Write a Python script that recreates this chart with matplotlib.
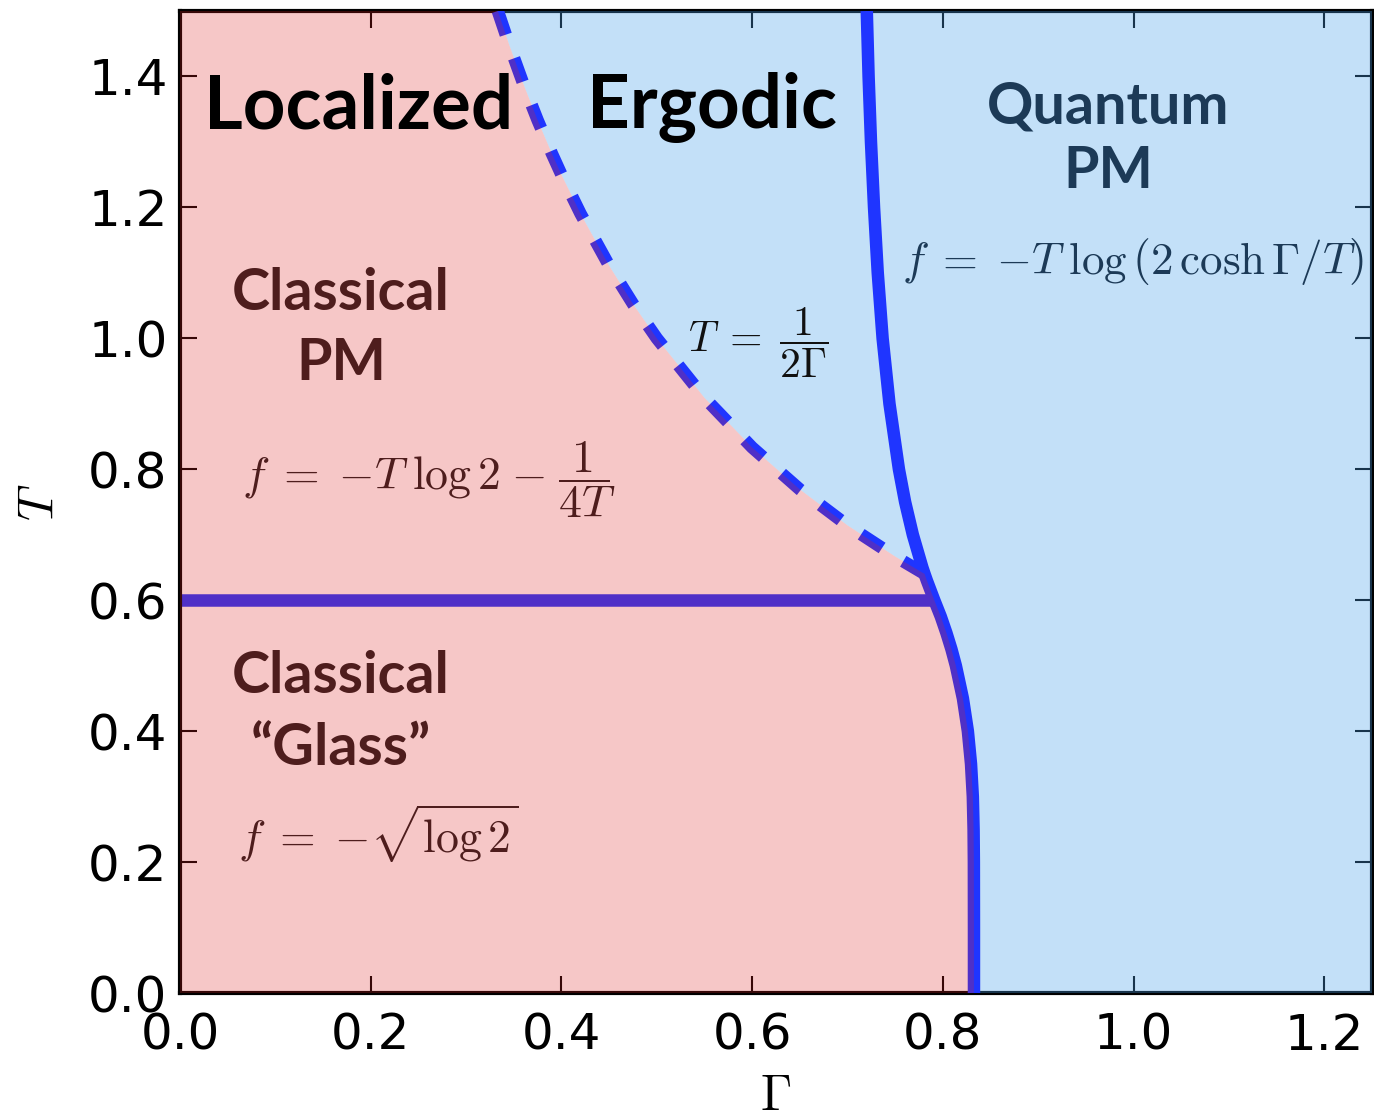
import numpy as np
import matplotlib
matplotlib.use("Agg")
import matplotlib.pyplot as plt

plt.rcParams['mathtext.fontset'] = 'cm'
plt.rcParams['font.family'] = ['DejaVu Sans']

# ---- data ----
# solid transition line (Gamma_c(T))
solid_T = [0.0, 0.1, 0.2, 0.25, 0.3, 0.35, 0.4, 0.45, 0.5, 0.525, 0.55, 0.575, 0.6,
           0.63, 0.64, 0.65, 0.7, 0.75, 0.8, 0.9, 1.0, 1.1, 1.2, 1.3, 1.4, 1.5]
solid_G = [0.8326, 0.8326, 0.8325, 0.8322, 0.8314, 0.8295, 0.8262, 0.8210, 0.8136, 0.8090,
           0.8037, 0.7978, 0.7910, 0.7832, 0.7808, 0.7785, 0.7685, 0.7604, 0.7539, 0.7440,
           0.7368, 0.7317, 0.7278, 0.7246, 0.7221, 0.7202]
# dashed line T = 1/(2 Gamma)
dash_G = [0.3333, 0.345, 0.36, 0.375, 0.39, 0.4, 0.42, 0.45, 0.475, 0.5, 0.55, 0.6,
          0.65, 0.7, 0.75, 0.781]
dash_T = [1.5, 1.4493, 1.3889, 1.3333, 1.2821, 1.25, 1.1905, 1.1111, 1.0526, 1.0,
          0.9091, 0.8333, 0.7692, 0.7143, 0.6667, 0.640]
# horizontal glass transition line
glass_T = 0.6
glass_G = [0.0, 0.791]
# crossing of dashed and solid lines
cross_G, cross_T = 0.781, 0.640

xlim = (0.0, 1.25)
ylim = (0.0, 1.5)
xticks = [0.0, 0.2, 0.4, 0.6, 0.8, 1.0, 1.2]
yticks = [0.0, 0.2, 0.4, 0.6, 0.8, 1.0, 1.2, 1.4]

fig = plt.figure(figsize=(4.58, 3.72667), dpi=300, facecolor='white')
ax = fig.add_axes([180/1374, 1 - 993/1118, 1192/1374, 982/1118])
ax.set_xlim(*xlim)
ax.set_ylim(*ylim)

line_c = '#1F35FF'
sT = np.array(solid_T); sG = np.array(solid_G)
ax.plot(glass_G, [glass_T, glass_T], color=line_c, lw=3, zorder=2, solid_capstyle='butt')
ax.plot(sG, sT, color=line_c, lw=3, zorder=3.2, solid_capstyle='butt')
ax.plot(dash_G, dash_T, color=line_c, lw=3, ls=(0, (2.0, 2.0)), zorder=3.2,
        dash_capstyle='butt')

# regions
low = sT <= cross_T
pinkG = [0.0, 0.0] + list(dash_G) + list(sG[low][::-1])
pinkT = [0.0, ylim[1]] + list(dash_T) + list(sT[low][::-1])
ax.fill(pinkG, pinkT, color=(223/255, 35/255, 35/255), alpha=0.25, lw=0, zorder=3.5)

hi = sT > cross_T
blueG = list(sG[~hi]) + [cross_G] + list(dash_G[::-1]) + [xlim[1], xlim[1]]
blueT = list(sT[~hi]) + [cross_T] + list(dash_T[::-1]) + [ylim[1], 0.0]
ax.fill(blueG, blueT, color=(73/255, 161/255, 234/255), alpha=0.33, lw=0, zorder=3)

# axes styling
for s in ax.spines.values():
    s.set_linewidth(1.0)
    s.set_zorder(2.5)
ax.set_xticks(xticks)
ax.set_yticks(yticks)
ax.set_xticklabels([f'{v:.1f}' for v in xticks])
ax.set_yticklabels([f'{v:.1f}' for v in yticks])
ax.tick_params(direction='in', length=4, width=0.5, top=True, right=True,
               labelsize=12)
ax.tick_params(axis='x', pad=4.5)
ax.tick_params(axis='y', pad=3)
ax.set_xlabel(r'$\Gamma$', fontsize=12)
ax.set_ylabel(r'$T$', fontsize=12)
ax.xaxis.set_label_coords(0.5, -0.080)
ax.yaxis.set_label_coords(-0.098, 0.5)

# region labels
lab_font = ['Lato', 'DejaVu Sans']
brown = '#4E1D1D'
navy = '#1C3A57'
big, mid = 17.9, 13.8
ax.text(0.187, 1.321, 'Localized', fontsize=big, fontweight='bold', family=lab_font,
        ha='center', va='baseline', color='black', zorder=5)
ax.text(0.558, 1.321, 'Ergodic', fontsize=big, fontweight='bold', family=lab_font,
        ha='center', va='baseline', color='black', zorder=5)
ax.text(0.973, 1.328, 'Quantum', fontsize=mid, fontweight='bold', family=lab_font,
        ha='center', va='baseline', color=navy, zorder=5)
ax.text(0.973, 1.229, 'PM', fontsize=mid, fontweight='bold', family=lab_font,
        ha='center', va='baseline', color=navy, zorder=5)
ax.text(0.169, 1.043, 'Classical', fontsize=mid, fontweight='bold', family=lab_font,
        ha='center', va='baseline', color=brown, zorder=5)
ax.text(0.169, 0.936, 'PM', fontsize=mid, fontweight='bold', family=lab_font,
        ha='center', va='baseline', color=brown, zorder=5)
ax.text(0.169, 0.458, 'Classical', fontsize=mid, fontweight='bold', family=lab_font,
        ha='center', va='baseline', color=brown, zorder=5)
ax.text(0.169, 0.348, '\u201cGlass\u201d', fontsize=mid, fontweight='bold', family=lab_font,
        ha='center', va='baseline', color=brown, zorder=5)

# formulas
ax.text(0.065, 0.768, r'$f\;=\;{-T}\;\log 2\;{-}\;\dfrac{1}{4T}$', fontsize=11,
        ha='left', va='baseline', color=brown, zorder=5)
ax.text(0.061, 0.214, r'$f\;=\;{-\sqrt{\log 2}}$', fontsize=11,
        ha='left', va='baseline', color=brown, zorder=5)
ax.text(0.533, 0.979, r'$T\;=\;\dfrac{1}{2\Gamma}$', fontsize=10,
        ha='left', va='baseline', color='#111111', zorder=5)
ax.text(0.757, 1.099, r'$f\;=\;{-T}\;\log\left(2\,\cosh\Gamma/T\right)$', fontsize=10.8,
        ha='left', va='baseline', color=navy, zorder=5)

fig.savefig('out.png', dpi=300, facecolor='white')
